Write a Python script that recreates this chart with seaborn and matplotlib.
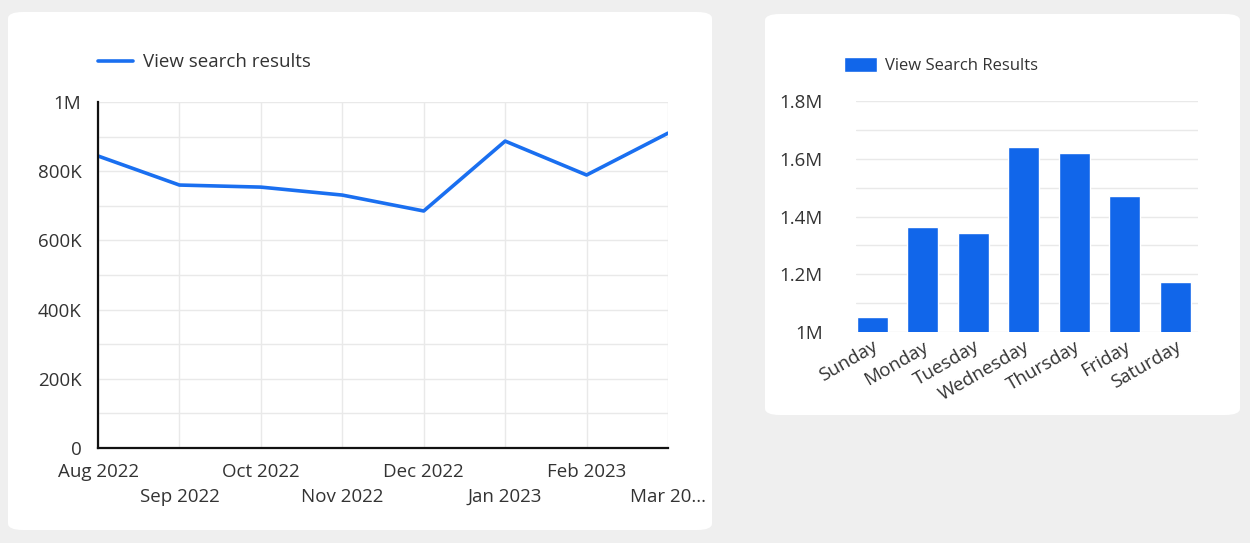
import pandas as pd
import seaborn as sns
import matplotlib.pyplot as plt
from matplotlib.patches import FancyBboxPatch
from matplotlib.ticker import FuncFormatter, MultipleLocator

# monthly line data
months = ['Aug 2022', 'Sep 2022', 'Oct 2022', 'Nov 2022', 'Dec 2022',
          'Jan 2023', 'Feb 2023', 'Mar 2023']
month_labels = ['Aug 2022', 'Sep 2022', 'Oct 2022', 'Nov 2022', 'Dec 2022',
                'Jan 2023', 'Feb 2023', 'Mar 20...']
monthly_views = [844000, 760000, 754000, 731000, 685000, 887000, 789000, 910000]

# weekday bar data
days = ['Sunday', 'Monday', 'Tuesday', 'Wednesday', 'Thursday', 'Friday', 'Saturday']
daily_views = [1052000, 1364000, 1343000, 1641000, 1620000, 1471000, 1173000]

sns.set_theme(style="white")
plt.rcParams['font.family'] = ['Open Sans', 'DejaVu Sans']

blue_line = '#1a6ff0'
blue_bar = '#1166ea'
grid_c = '#e9e9e9'

fig = plt.figure(figsize=(12.5, 5.43), dpi=100)
fig.patch.set_facecolor('#efefef')

W, H = 1250, 543
def card(x0, y0, x1, y1):
    p = FancyBboxPatch((x0 / W, 1 - y1 / H), (x1 - x0) / W, (y1 - y0) / H,
                       boxstyle="round,pad=0,rounding_size=0.012",
                       transform=fig.transFigure, facecolor='white',
                       edgecolor='none', zorder=-5)
    fig.patches.append(p)

card(8, 12, 712, 530)
card(765, 14, 1240, 415)

# ---- line chart
ax1 = fig.add_axes([98 / W, 1 - 448 / H, 570 / W, 346 / H])
df_line = pd.DataFrame({'x': range(len(months)), 'views': monthly_views})
sns.lineplot(data=df_line, x='x', y='views', ax=ax1, color=blue_line,
             linewidth=2.6, label='View search results')
ax1.set_xlim(0, len(months) - 1)
ax1.set_ylim(0, 1000000)
ax1.set_xticks(range(len(months)))
ax1.set_xticklabels([l if i % 2 == 0 else '\n' + l for i, l in enumerate(month_labels)],
                    fontsize=13.5, color='#333333', linespacing=1.45)
ax1.yaxis.set_major_locator(MultipleLocator(200000))
ax1.yaxis.set_minor_locator(MultipleLocator(100000))
ax1.yaxis.set_major_formatter(FuncFormatter(
    lambda v, p: '0' if v == 0 else ('1M' if v >= 1e6 else f'{int(v / 1000)}K')))
ax1.tick_params(axis='y', labelsize=13.5, labelcolor='#333333', pad=12, length=0)
ax1.tick_params(axis='x', pad=11, length=0)
ax1.grid(True, which='both', axis='y', color=grid_c, linewidth=1)
ax1.grid(True, axis='x', color=grid_c, linewidth=1)
ax1.set_xlabel('')
ax1.set_ylabel('')
for s in ['top', 'right']:
    ax1.spines[s].set_visible(False)
for s in ['left', 'bottom']:
    ax1.spines[s].set_color('#111111')
    ax1.spines[s].set_linewidth(1.6)
ax1.set_facecolor('white')
ax1.legend(loc='lower left', bbox_to_anchor=(-0.03, 1.04), frameon=False,
           fontsize=13.5, handlelength=1.9, handletextpad=0.5,
           labelcolor='#333333')

# ---- bar chart
ax2 = fig.add_axes([856 / W, 1 - 332 / H, 342 / W, 231 / H])
df_bar = pd.DataFrame({'day': days, 'views': daily_views})
sns.barplot(data=df_bar, x='day', y='views', ax=ax2, color=blue_bar,
            width=0.62, saturation=1, label='View Search Results')
ax2.set_ylim(1000000, 1800000)
ax2.set_xlim(-0.32, 6.45)
ax2.yaxis.set_major_locator(MultipleLocator(200000))
ax2.yaxis.set_minor_locator(MultipleLocator(100000))
ax2.yaxis.set_major_formatter(FuncFormatter(
    lambda v, p: f'{v / 1e6:g}M'))
ax2.tick_params(axis='y', labelsize=13.5, labelcolor='#333333', pad=24, length=0)
ax2.tick_params(axis='x', labelsize=13.5, labelcolor='#333333', pad=4, length=0)
plt.setp(ax2.get_xticklabels(), rotation=30, ha='right', rotation_mode='anchor')
ax2.grid(True, which='both', axis='y', color=grid_c, linewidth=1)
ax2.set_axisbelow(True)
ax2.set_xlabel('')
ax2.set_ylabel('')
for s in ax2.spines.values():
    s.set_visible(False)
ax2.legend(loc='lower left', bbox_to_anchor=(-0.08, 1.05), frameon=False,
           fontsize=12, handlelength=2.0, handleheight=1.0, handletextpad=0.5,
           labelcolor='#333333')

fig.savefig('out.png', dpi=100, facecolor=fig.get_facecolor())
